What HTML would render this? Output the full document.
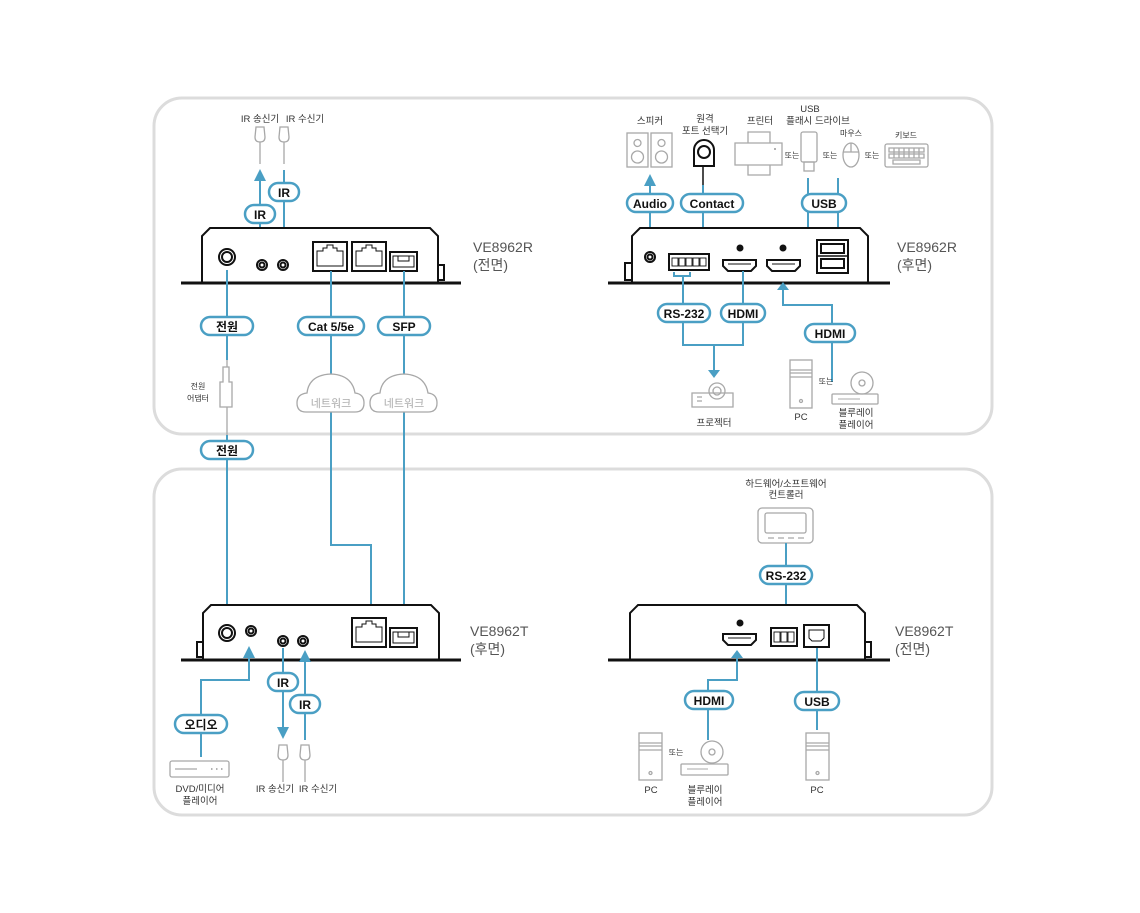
<!DOCTYPE html>
<html><head><meta charset="utf-8"><style>
html,body{margin:0;padding:0;background:#fff}
svg{display:block}
text{font-family:"Liberation Sans","Noto Sans CJK KR",sans-serif}
.g{fill:none;stroke:#a8a8a8;stroke-width:1.3}
.b{fill:none;stroke:#4a9fc4;stroke-width:2}
.k{fill:#fff;stroke:#111;stroke-width:2}
.pl rect{fill:#fff;stroke:#4a9fc4;stroke-width:2.5}
.pl text{font-size:12px;font-weight:bold;fill:#111;text-anchor:middle}
.s{font-size:9.5px;fill:#333;text-anchor:middle}
.t{font-size:8px;fill:#333;text-anchor:middle}
.m{font-size:14px;fill:#555}
.c{font-size:11px;fill:#aaa;text-anchor:middle}
</style></head><body>
<svg width="1140" height="913" viewBox="0 0 1140 913" xmlns="http://www.w3.org/2000/svg">
<defs>
<marker id="a" viewBox="0 0 10 10" refX="5" refY="5" markerWidth="6" markerHeight="6" orient="auto"><path d="M0,0 L10,5 L0,10 Z" fill="#4a9fc4"/></marker>
</defs>
<rect x="154" y="98" width="838" height="336" rx="28" fill="none" stroke="#dcdcdc" stroke-width="3"/>
<rect x="154" y="469" width="838" height="346" rx="28" fill="none" stroke="#dcdcdc" stroke-width="3"/>

<!-- ===== TOP LEFT: VE8962R front ===== -->
<text class="s" x="260" y="122">IR 송신기</text><text class="s" x="305" y="122">IR 수신기</text>
<path class="g" d="M256,127 h8 l1,10 q0,5 -5,5 q-5,0 -5,-5 z M260,142 v22"/>
<path class="g" d="M280,127 h8 l1,10 q0,5 -5,5 q-5,0 -5,-5 z M284,142 v22"/>
<path class="b" d="M260,262 V175" marker-end="url(#a)"/>
<path class="b" d="M284,170 V253" marker-end="url(#a)"/>
<g class="pl"><rect x="245" y="205" width="30" height="18" rx="9"/><text x="260" y="219">IR</text></g>
<g class="pl"><rect x="269" y="183" width="30" height="18" rx="9"/><text x="284" y="197">IR</text></g>
<path class="k" d="M202,283 V236 l8,-8 H430 l8,8 V283"/>
<rect x="438" y="265" width="6" height="15" class="k" stroke-width="1.5"/>
<line x1="181" y1="283" x2="461" y2="283" stroke="#111" stroke-width="3"/>
<circle cx="227" cy="257" r="8" class="k" stroke-width="1.5"/><circle cx="227" cy="257" r="5" class="k" stroke-width="1"/>
<circle cx="262" cy="265" r="5" class="k" stroke-width="1.5"/><circle cx="262" cy="265" r="2.5" class="k" stroke-width="1"/>
<circle cx="283" cy="265" r="5" class="k" stroke-width="1.5"/><circle cx="283" cy="265" r="2.5" class="k" stroke-width="1"/>
<rect x="313" y="242" width="34" height="29" class="k" stroke-width="1.5"/><path d="M317,266 V251 h6 v-3 h4 v-3 h6 v3 h4 v3 h6 V266 Z" fill="none" stroke="#111" stroke-width="1"/>
<rect x="352" y="242" width="34" height="29" class="k" stroke-width="1.5"/><path d="M356,266 V251 h6 v-3 h4 v-3 h6 v3 h4 v3 h6 V266 Z" fill="none" stroke="#111" stroke-width="1"/>
<rect x="390" y="252" width="27" height="19" class="k" stroke-width="1.5"/><path d="M393,256 h21 v11 h-21 z M398,256 v5 h11 v-5" fill="none" stroke="#111" stroke-width="1"/>
<text class="m" x="473" y="252">VE8962R</text><text class="m" x="473" y="270">(전면)</text>
<path class="b" d="M227,270 V360"/>
<path class="g" d="M227,360 V367 M223,367 h6 v15 h3 v25 h-12 v-25 h3 z M227,407 V435"/>
<text class="t" x="198" y="389">전원</text><text class="t" x="198" y="401">어댑터</text>
<path class="b" d="M227,435 V625"/>
<path class="b" d="M331,271 V374 M331,412 V545 H371 V618"/>
<path class="b" d="M404,271 V374 M404,412 V628"/>
<path class="g" d="M306,412 Q297,412 297,403 Q297,394 307,393 Q309,375 331,374 Q352,375 355,393 Q364,394 364,403 Q364,412 355,412 Z"/>
<path class="g" d="M379,412 Q370,412 370,403 Q370,394 380,393 Q382,375 404,374 Q425,375 428,393 Q437,394 437,403 Q437,412 428,412 Z"/>
<text class="c" x="331" y="407">네트워크</text><text class="c" x="404" y="407">네트워크</text>
<g class="pl"><rect x="201" y="317" width="52" height="18" rx="9"/><text x="227" y="331">전원</text></g>
<g class="pl"><rect x="298" y="317" width="66" height="18" rx="9"/><text x="331" y="331">Cat 5/5e</text></g>
<g class="pl"><rect x="378" y="317" width="52" height="18" rx="9"/><text x="404" y="331">SFP</text></g>
<g class="pl"><rect x="201" y="441" width="52" height="18" rx="9"/><text x="227" y="455">전원</text></g>

<!-- ===== TOP RIGHT: VE8962R rear ===== -->
<text class="s" x="650" y="124">스피커</text>
<rect x="627" y="133" width="21" height="34" class="g"/><circle cx="637.5" cy="143" r="3.5" class="g"/><circle cx="637.5" cy="157" r="6" class="g"/>
<rect x="651" y="133" width="21" height="34" class="g"/><circle cx="661.5" cy="143" r="3.5" class="g"/><circle cx="661.5" cy="157" r="6" class="g"/>
<text class="s" x="705" y="122">원격</text><text class="s" x="705" y="134">포트 선택기</text>
<path d="M694,166 V150 a10,10 0 0 1 20,0 V166 Z" class="k" stroke-width="1.5"/><circle cx="704" cy="152" r="6" class="k" stroke-width="1.3"/>
<line x1="703" y1="166" x2="703" y2="185" stroke="#111" stroke-width="1.5"/>
<text class="s" x="760" y="124">프린터</text>
<text class="s" x="810" y="112">USB</text><text class="s" x="818" y="124">플래시 드라이브</text>
<path class="g" d="M748,143 V132 h22 v11 M735,143 h47 v22 h-47 z M748,165 v10 h22 v-10"/><circle cx="775" cy="149" r="1" fill="#999"/>
<text class="t" x="792" y="158">또는</text>
<rect x="801" y="132" width="16" height="30" rx="2" class="g"/><rect x="804" y="162" width="10" height="9" class="g"/>
<text class="t" x="830" y="158">또는</text>
<text class="t" x="851" y="136">마우스</text>
<ellipse cx="851" cy="155" rx="8" ry="12" class="g"/><path class="g" d="M843,152 h16 M851,143 v9"/>
<text class="t" x="872" y="158">또는</text>
<text class="t" x="906" y="138">키보드</text>
<rect x="885" y="144" width="43" height="23" rx="2" class="g"/>
<path class="g" stroke-width="0.8" d="M889,148 h35 v4 h-35 z M889,154 h35 v4 h-35 z M893,160 h27 v4 h-27 z M894,148 v10 M899,148 v10 M904,148 v10 M909,148 v10 M914,148 v10 M919,148 v10"/>
<path class="b" d="M650,250 V180" marker-end="url(#a)"/>
<path class="b" d="M703,185 V240 M696,240 H709 M696,240 V248 M709,240 V248"/>
<path d="M692,248 h8 l-4,6 z M705,248 h8 l-4,6 z" fill="#4a9fc4"/>
<path class="b" d="M808,178 V272 H817 M838,178 V240"/>
<g class="pl"><rect x="627" y="194" width="46" height="18" rx="9"/><text x="650" y="208">Audio</text></g>
<g class="pl"><rect x="681" y="194" width="62" height="18" rx="9"/><text x="712" y="208">Contact</text></g>
<g class="pl"><rect x="802" y="194" width="44" height="18" rx="9"/><text x="824" y="208">USB</text></g>
<path class="k" d="M632,283 V236 l8,-8 H860 l8,8 V283"/>
<rect x="625" y="263" width="7" height="17" class="k" stroke-width="1.5"/>
<line x1="608" y1="283" x2="890" y2="283" stroke="#111" stroke-width="3"/>
<circle cx="650" cy="257" r="5" class="k" stroke-width="1.5"/><circle cx="650" cy="257" r="2.5" class="k" stroke-width="1"/>
<rect x="669" y="254" width="40" height="16" class="k" stroke-width="1.5"/>
<g fill="none" stroke="#111" stroke-width="0.9"><rect x="672" y="258" width="6" height="8"/><rect x="679" y="258" width="6" height="8"/><rect x="686" y="258" width="6" height="8"/><rect x="693" y="258" width="6" height="8"/><rect x="700" y="258" width="6" height="8"/></g>
<path d="M723,260 h33 v6 l-5,5 h-23 l-5,-5 z" class="k" stroke-width="1.5"/><line x1="728" y1="264" x2="751" y2="264" stroke="#111"/>
<circle cx="740" cy="248" r="3.5" fill="#111"/>
<path d="M767,260 h33 v6 l-5,5 h-23 l-5,-5 z" class="k" stroke-width="1.5"/><line x1="772" y1="264" x2="795" y2="264" stroke="#111"/>
<circle cx="783" cy="248" r="3.5" fill="#111"/>
<rect x="817" y="240" width="31" height="33" class="k" stroke-width="1.5"/><rect x="821" y="244" width="23" height="9" class="k" stroke-width="1"/><rect x="821" y="259" width="23" height="9" class="k" stroke-width="1"/><line x1="817" y1="256" x2="848" y2="256" stroke="#111" stroke-width="1.5"/>
<text class="m" x="897" y="252">VE8962R</text><text class="m" x="897" y="270">(후면)</text>
<path class="b" d="M674,272 V276 H690 V272 M683,276 V345 H743 V271 M714,345 V372"/>
<path d="M708,370 h12 l-6,8 z" fill="#4a9fc4"/>
<path class="b" d="M832,382 V305 H783 V288"/>
<path d="M777,290 h12 l-6,-8 z" fill="#4a9fc4"/>
<g class="pl"><rect x="658" y="304" width="52" height="18" rx="9"/><text x="684" y="318">RS-232</text></g>
<g class="pl"><rect x="721" y="304" width="44" height="18" rx="9"/><text x="743" y="318">HDMI</text></g>
<g class="pl"><rect x="805" y="324" width="50" height="18" rx="9"/><text x="830" y="338">HDMI</text></g>
<path class="g" d="M692,393 h41 v14 h-41 z M697,397 h5 M697,401 h5"/><circle cx="717" cy="391" r="8" class="g"/><circle cx="717" cy="391" r="4" class="g"/>
<text class="s" x="714" y="426">프로젝터</text>
<rect x="790" y="360" width="22" height="48" class="g"/><path class="g" d="M790,370 h22 M790,373 h22 M790,377 h22"/><circle cx="801" cy="401" r="1.5" class="g"/>
<text class="s" x="801" y="420">PC</text>
<text class="t" x="826" y="384">또는</text>
<circle cx="862" cy="383" r="11" class="g"/><circle cx="862" cy="383" r="3" class="g"/>
<rect x="832" y="394" width="46" height="10" rx="1" class="g"/><line x1="838" y1="399" x2="860" y2="399" stroke="#a8a8a8"/>
<text class="s" x="856" y="416">블루레이</text><text class="s" x="856" y="428">플레이어</text>

<!-- ===== BOTTOM LEFT: VE8962T rear ===== -->
<path class="k" d="M203,660 V613 l8,-8 H431 l8,8 V660"/>
<rect x="197" y="642" width="6" height="15" class="k" stroke-width="1.5"/>
<line x1="181" y1="660" x2="461" y2="660" stroke="#111" stroke-width="3"/>
<circle cx="227" cy="633" r="8" class="k" stroke-width="1.5"/><circle cx="227" cy="633" r="5" class="k" stroke-width="1"/>
<circle cx="251" cy="631" r="5" class="k" stroke-width="1.5"/><circle cx="251" cy="631" r="2.5" class="k" stroke-width="1"/>
<circle cx="283" cy="641" r="5" class="k" stroke-width="1.5"/><circle cx="283" cy="641" r="2.5" class="k" stroke-width="1"/>
<circle cx="303" cy="641" r="5" class="k" stroke-width="1.5"/><circle cx="303" cy="641" r="2.5" class="k" stroke-width="1"/>
<rect x="352" y="618" width="34" height="29" class="k" stroke-width="1.5"/><path d="M356,642 V627 h6 v-3 h4 v-3 h6 v3 h4 v3 h6 V642 Z" fill="none" stroke="#111" stroke-width="1"/>
<rect x="390" y="628" width="27" height="19" class="k" stroke-width="1.5"/><path d="M393,632 h21 v11 h-21 z M398,632 v5 h11 v-5" fill="none" stroke="#111" stroke-width="1"/>
<text class="m" x="470" y="636">VE8962T</text><text class="m" x="470" y="654">(후면)</text>
<path class="b" d="M201,757 V680 H249 V652" marker-end="url(#a)"/>
<path class="b" d="M283,648 V733" marker-end="url(#a)"/>
<path class="b" d="M305,740 V656" marker-end="url(#a)"/>
<g class="pl"><rect x="175" y="715" width="52" height="18" rx="9"/><text x="201" y="729">오디오</text></g>
<g class="pl"><rect x="268" y="673" width="30" height="18" rx="9"/><text x="283" y="687">IR</text></g>
<g class="pl"><rect x="290" y="695" width="30" height="18" rx="9"/><text x="305" y="709">IR</text></g>
<rect x="170" y="761" width="59" height="16" rx="2" class="g"/><path class="g" d="M175,769 h22"/><path d="M211,769h1.5M216,769h1.5M221,769h1.5" stroke="#999" stroke-width="1.5"/>
<text class="s" x="200" y="792">DVD/미디어</text><text class="s" x="200" y="804">플레이어</text>
<path class="g" d="M279,745 h8 l1,10 q0,5 -5,5 q-5,0 -5,-5 z M283,760 v22"/>
<path class="g" d="M301,745 h8 l1,10 q0,5 -5,5 q-5,0 -5,-5 z M305,760 v22"/>
<text class="s" x="275" y="792">IR 송신기</text><text class="s" x="318" y="792">IR 수신기</text>

<!-- ===== BOTTOM RIGHT: VE8962T front ===== -->
<text class="s" x="786" y="487">하드웨어/소프트웨어</text><text class="s" x="786" y="498">컨트롤러</text>
<rect x="758" y="508" width="55" height="35" rx="4" class="g"/><rect x="765" y="513" width="41" height="20" rx="2" class="g"/><path class="g" d="M768,538 h6 M778,538 h6 M788,538 h6 M798,538 h6"/>
<path class="b" d="M786,543 V620" marker-end="url(#a)"/>
<g class="pl"><rect x="760" y="566" width="52" height="18" rx="9"/><text x="786" y="580">RS-232</text></g>
<path class="k" d="M630,660 V613 l8,-8 H857 l8,8 V660"/>
<rect x="865" y="642" width="6" height="15" class="k" stroke-width="1.5"/>
<line x1="608" y1="660" x2="890" y2="660" stroke="#111" stroke-width="3"/>
<path d="M723,634 h33 v6 l-5,5 h-23 l-5,-5 z" class="k" stroke-width="1.5"/><line x1="728" y1="638" x2="751" y2="638" stroke="#111"/>
<circle cx="740" cy="623" r="3.5" fill="#111"/>
<rect x="771" y="628" width="26" height="18" class="k" stroke-width="1.5"/>
<g fill="none" stroke="#111" stroke-width="0.9"><rect x="774" y="632" width="6" height="10"/><rect x="781" y="632" width="6" height="10"/><rect x="788" y="632" width="6" height="10"/></g>
<rect x="804" y="625" width="25" height="22" class="k" stroke-width="1.5"/><path d="M809,630 h15 v8 l-3,3 h-9 l-3,-3 z" fill="none" stroke="#111" stroke-width="1"/>
<text class="m" x="895" y="636">VE8962T</text><text class="m" x="895" y="654">(전면)</text>
<path class="b" d="M708,740 V680 H737 V656"/>
<path d="M731,658 h12 l-6,-8 z" fill="#4a9fc4"/>
<path class="b" d="M817,648 V730"/>
<g class="pl"><rect x="685" y="691" width="48" height="18" rx="9"/><text x="709" y="705">HDMI</text></g>
<g class="pl"><rect x="795" y="692" width="44" height="18" rx="9"/><text x="817" y="706">USB</text></g>
<rect x="639" y="733" width="23" height="47" class="g"/><path class="g" d="M639,743 h23 M639,746 h23 M639,750 h23"/><circle cx="650.5" cy="773" r="1.5" class="g"/>
<text class="s" x="651" y="793">PC</text>
<text class="t" x="676" y="755">또는</text>
<circle cx="712" cy="752" r="11" class="g"/><circle cx="712" cy="752" r="3" class="g"/>
<rect x="681" y="764" width="47" height="11" rx="1" class="g"/><line x1="687" y1="769" x2="708" y2="769" stroke="#a8a8a8"/>
<text class="s" x="705" y="793">블루레이</text><text class="s" x="705" y="805">플레이어</text>
<rect x="806" y="733" width="23" height="47" class="g"/><path class="g" d="M806,743 h23 M806,746 h23 M806,750 h23"/><circle cx="817.5" cy="773" r="1.5" class="g"/>
<text class="s" x="817" y="793">PC</text>
</svg>
</body></html>
